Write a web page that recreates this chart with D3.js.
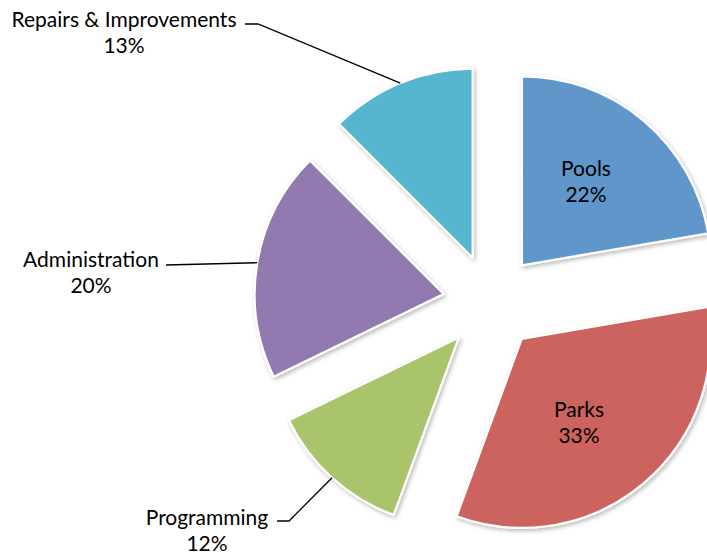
<!DOCTYPE html>
<html>
<head>
<meta charset="utf-8">
<script src="https://cdn.jsdelivr.net/npm/d3@7"></script>
<style>
  body { margin: 0; background: #fff; }
  svg text { font-family: Lato, "Open Sans", sans-serif; font-size: 21px; fill: #000; }
</style>
</head>
<body>
<div id="chart"></div>
<script>
// data (shares, labels show them rounded)
const categories = ['Pools', 'Parks', 'Programming', 'Administration', 'Repairs & Improvements']
const values = [22.3, 33.3, 12.2, 19.7, 12.5]
const colors = ['#6096c9', '#cc645e', '#a9c46b', '#9279b0', '#56b6cd']

const w = 707
const h = 554
const cx = 491
const cy = 302
const r = 189
const explode = 48

// label placement (layout only): inside labels centred, outside labels get a leader line
const labelPos = [
    { x: 586, y: 176, inside: true },
    { x: 579, y: 417, inside: true },
    { x: 207, y: 525, inside: false, lx: 277, ly: 521, hx: 289 },
    { x: 91, y: 267, inside: false, lx: 166, ly: 265, hx: 166 },
    { x: 124, y: 27, inside: false, lx: 245, ly: 24, hx: 258 }
]

const svg = d3.select('#chart')
    .append('svg')
    .attr('width', w)
    .attr('height', h)

const defs = svg.append('defs')
const shadow = defs.append('filter')
    .attr('id', 'shadow')
    .attr('x', '-20%').attr('y', '-20%')
    .attr('width', '140%').attr('height', '140%')
shadow.append('feDropShadow')
    .attr('dx', 1.5).attr('dy', 2)
    .attr('stdDeviation', 2)
    .attr('flood-color', '#000')
    .attr('flood-opacity', 0.28)

const pie = d3.pie().sort(null).value(d => d)
const arcs = pie(values)
const arc = d3.arc().innerRadius(0).outerRadius(r)

// offset of each exploded slice along its mid angle
function offset(d) {
    const a = (d.startAngle + d.endAngle) / 2
    return [cx + explode * Math.sin(a), cy - explode * Math.cos(a)]
}

const slices = svg.selectAll('g.slice')
    .data(arcs)
    .enter()
    .append('g')
    .attr('class', 'slice')
    .attr('transform', d => 'translate(' + offset(d) + ')')

slices.append('path')
    .attr('d', arc)
    .attr('fill', (d, i) => colors[i])
    .attr('stroke', '#fff')
    .attr('stroke-width', 2.2)
    .attr('stroke-linejoin', 'round')
    .attr('filter', 'url(#shadow)')

// leader lines for outside labels
arcs.forEach((d, i) => {
    const p = labelPos[i]
    if (p.inside) return
    const o = offset(d)
    const a = (d.startAngle + d.endAngle) / 2
    const ex = o[0] + r * Math.sin(a)
    const ey = o[1] - r * Math.cos(a)
    const line = d3.line()
    svg.append('path')
        .attr('d', line([[p.lx, p.ly], [p.hx, p.ly], [ex, ey]]))
        .attr('fill', 'none')
        .attr('stroke', '#000')
        .attr('stroke-width', 1.3)
})

// labels
arcs.forEach((d, i) => {
    const p = labelPos[i]
    const t = svg.append('text')
        .attr('text-anchor', 'middle')
    t.append('tspan').attr('x', p.x).attr('y', p.y).text(categories[i])
    t.append('tspan').attr('x', p.x).attr('y', p.y + 26).text(Math.round(values[i]) + '%')
})
</script>
</body>
</html>
